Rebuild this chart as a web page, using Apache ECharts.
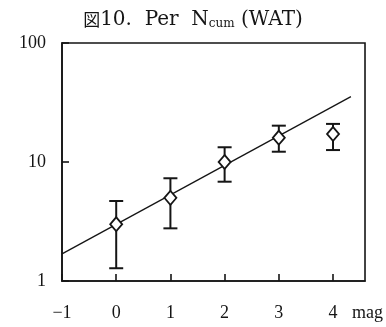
<!DOCTYPE html>
<html>
<head>
<meta charset="utf-8">
<script src="https://cdn.jsdelivr.net/npm/echarts@6/dist/echarts.min.js"></script>
<style>
  html, body { margin: 0; padding: 0; background: #fff; }
  #chart { width: 386px; height: 327px; }
</style>
</head>
<body>
<div id="chart"></div>
<script>
// Magnitude bins and the cumulative-count ratio with its error range
const mags = [0, 1, 2, 3, 4];
const perN = [3.0, 5.0, 10.0, 16.0, 17.2];
const errHigh = [4.7, 7.3, 13.3, 20.2, 20.9];
const errLow = [1.28, 2.77, 6.83, 12.2, 12.6];

// Fitted trend line end points (mag, value)
const fitMags = [-1, 4.33];
const fitVals = [1.69, 35.4];

// Axis settings
const xTicks = [-1, 0, 1, 2, 3, 4];
const yTicks = [1, 10, 100];

const serif = '"Liberation Serif", "DejaVu Serif", "Noto Sans CJK JP", serif';
const titleFont = '"DejaVu Serif", "Liberation Serif", "Noto Sans CJK JP", serif';
const ink = '#151515';

const chart = echarts.init(document.getElementById('chart'), null, { renderer: 'canvas' });

chart.setOption({
  backgroundColor: '#ffffff',
  animation: false,
  title: {
    text: '{cjk|図}10.  Per  N{sub|cum} (WAT)',
    left: 'center',
    top: 4,
    textStyle: {
      fontFamily: titleFont,
      fontSize: 20,
      fontWeight: 'normal',
      color: ink,
      rich: {
        cjk: { fontFamily: '"Noto Sans CJK JP", sans-serif', fontSize: 17, color: ink },
        sub: { fontFamily: titleFont, fontSize: 12, color: ink, verticalAlign: 'bottom', padding: [9, 0, 0, 0] }
      }
    }
  },
  grid: {
    left: 62, right: 20, top: 43, bottom: 46,
    show: true,
    borderColor: ink,
    borderWidth: 1.6,
    backgroundColor: 'transparent'
  },
  xAxis: {
    type: 'value',
    min: xTicks[0],
    max: 4.59,
    interval: 1,
    axisLine: { onZero: false, lineStyle: { color: ink, width: 1.6 } },
    axisTick: { inside: true, length: 7, lineStyle: { color: ink, width: 1.6 } },
    splitLine: { show: false },
    axisLabel: {
      margin: 23,
      fontFamily: serif,
      fontSize: 18,
      color: ink,
      showMaxLabel: false,
      formatter: v => (xTicks.indexOf(v) >= 0 ? String(v).replace('-', '\u2212') : '')
    },
    name: 'mag',
    nameLocation: 'end',
    nameGap: -13,
    nameTextStyle: {
      fontFamily: serif,
      fontSize: 18,
      color: ink,
      align: 'left',
      verticalAlign: 'top',
      padding: [23, 0, 0, 0]
    }
  },
  yAxis: {
    type: 'log',
    logBase: 10,
    min: yTicks[0],
    max: yTicks[yTicks.length - 1],
    axisLine: { onZero: false, lineStyle: { color: ink, width: 1.6 } },
    axisTick: { inside: true, length: 7, lineStyle: { color: ink, width: 1.6 } },
    minorTick: { show: false },
    splitLine: { show: false },
    axisLabel: {
      margin: 16,
      fontFamily: serif,
      fontSize: 18,
      color: ink,
      padding: [6, 0, 0, 0]
    }
  },
  series: [
    {
      type: 'line',
      data: fitMags.map((m, i) => [m, fitVals[i]]),
      symbol: 'none',
      lineStyle: { color: ink, width: 1.3 },
      z: 1
    },
    {
      type: 'custom',
      data: mags.map((m, i) => [m, errLow[i], errHigh[i]]),
      renderItem: function (params, api) {
        const lo = api.coord([api.value(0), api.value(1)]);
        const hi = api.coord([api.value(0), api.value(2)]);
        const cap = 7;
        const style = { stroke: ink, lineWidth: 2, fill: null };
        return {
          type: 'group',
          children: [
            { type: 'line', shape: { x1: lo[0], y1: lo[1], x2: hi[0], y2: hi[1] }, style: style },
            { type: 'line', shape: { x1: hi[0] - cap, y1: hi[1], x2: hi[0] + cap, y2: hi[1] }, style: style },
            { type: 'line', shape: { x1: lo[0] - cap, y1: lo[1], x2: lo[0] + cap, y2: lo[1] }, style: style }
          ]
        };
      },
      z: 2
    },
    {
      type: 'scatter',
      data: mags.map((m, i) => [m, perN[i]]),
      symbol: 'diamond',
      symbolSize: [12, 14],
      itemStyle: { color: '#ffffff', borderColor: ink, borderWidth: 1.8, opacity: 1 },
      z: 3
    }
  ]
});
</script>
</body>
</html>
